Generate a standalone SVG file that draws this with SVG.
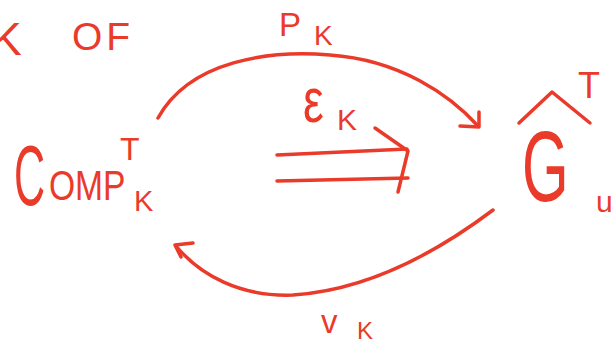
<svg xmlns="http://www.w3.org/2000/svg" width="612" height="343" viewBox="0 0 612 343">
<style>
.t{font-family:"Liberation Sans","DejaVu Sans",sans-serif;fill:#ea3a2a}
.s{fill:none;stroke:#ea3a2a;stroke-width:3.5;stroke-linecap:round;stroke-linejoin:round}
</style>
<rect width="612" height="343" fill="#fff"/>
<g id="header">
<text class="t" x="-9" y="55" font-size="46">K</text>
<text class="t" x="72" y="50" font-size="39" letter-spacing="4">OF</text>
</g>
<g id="comp">
<text class="t" transform="translate(14,205) scale(0.5,1)" font-size="86">C</text>
<text class="t" transform="translate(49,200) scale(0.8,1)" font-size="42">OMP</text>
<text class="t" x="120" y="160" font-size="32">T</text>
<text class="t" x="134" y="211" font-size="29">K</text>
</g>
<g id="ghat">
<polyline class="s" points="519,123 552,92 590,123"/>
<text class="t" transform="translate(522,201) scale(0.6,1)" font-size="100">G</text>
<text class="t" x="578" y="98" font-size="36">T</text>
<text class="t" x="596" y="212" font-size="30">u</text>
</g>
<g id="connectors">
<path class="s" d="M158,118 C190,60 270,50 330,55 C400,60 450,95 478,126"/>
<polyline class="s" points="460,126 479,127 479,112"/>
<path class="s" d="M493,210 C440,250 370,290 293,295 C240,297 200,275 176,246"/>
<polyline class="s" points="193,243 175,245 181,257"/>
<line class="s" x1="277" y1="155" x2="407" y2="149"/>
<line class="s" x1="277" y1="181" x2="408" y2="178"/>
<polyline class="s" points="375,128 408,151 398,192"/>
</g>
<g id="labels">
<text class="t" x="279" y="36" font-size="33">P</text>
<text class="t" x="314" y="45" font-size="28">K</text>
<text class="t" transform="translate(303,122) scale(0.75,1)" font-size="62">ε</text>
<text class="t" x="337" y="130" font-size="30">K</text>
<text class="t" x="321" y="333" font-size="33">v</text>
<text class="t" x="357" y="339" font-size="24">K</text>
</g>
</svg>
